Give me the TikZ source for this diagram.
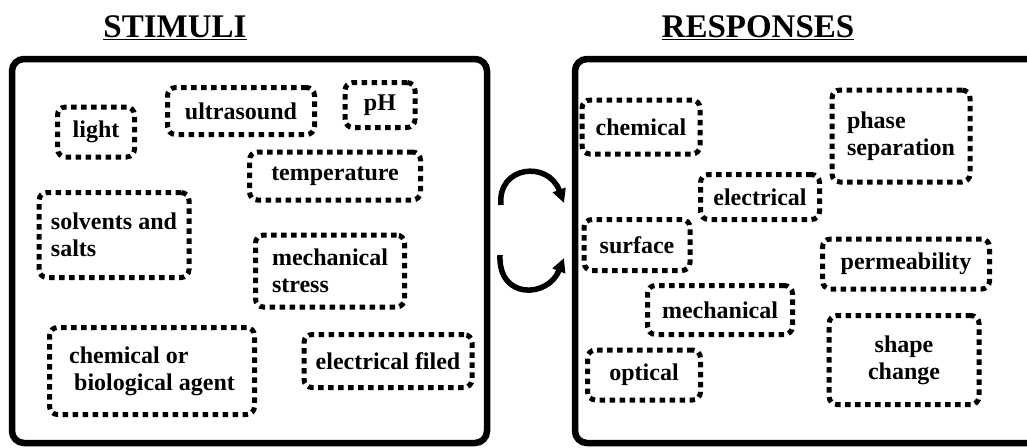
\documentclass[tikz,border=0pt]{standalone}
\usepackage{fontspec}
\setmainfont{Liberation Serif}[BoldFont={Liberation Serif Bold}]
\usetikzlibrary{arrows.meta}
\begin{document}
\begin{tikzpicture}[x=1pt,y=-1pt,
  panel/.style={draw, line width=6.5pt, rounded corners=12pt, inner sep=0pt},
  dbox/.style={draw, line width=5pt, dash pattern=on 5.5pt off 4.5pt, rounded corners=8pt, inner sep=0pt, font=\fontsize{24}{27}\selectfont\bfseries, align=center},
  ltext/.style={align=left},
  title/.style={font=\fontsize{33}{36}\selectfont\bfseries, anchor=base},
  cyc/.style={line width=5.5pt, -{Triangle[length=14pt,width=13pt]}}
]
\useasboundingbox (0,0) rectangle (1027,447);
\clip (0,0) rectangle (1027,447);
% titles
\node[title] (t1) at (175,37) {\underline{STIMULI}};
\node[title] (t2) at (758,37) {\underline{RESPONSES}};
% panels
\node[panel, minimum width=475pt, minimum height=384pt] (left) at (249.5,251) {};
\node[panel, minimum width=465pt, minimum height=384pt] (right) at (807.5,251) {};
% stimuli
\node[dbox, minimum width=77pt, minimum height=50pt] (light) at (96,132) {light};
\node[dbox, minimum width=147pt, minimum height=47pt] (ultra) at (241,111) {ultrasound};
\node[dbox, minimum width=70pt, minimum height=45pt] (ph) at (380,105) {pH};
\node[dbox, minimum width=171pt, minimum height=48pt] (temp) at (335,176) {temperature};
\node[dbox, ltext, minimum width=150pt, minimum height=85pt] (solv) at (114,235) {solvents and\\salts};
\node[dbox, ltext, minimum width=149pt, minimum height=72pt] (mech) at (330,271) {mechanical\\stress};
\node[dbox, ltext, minimum width=205pt, minimum height=87pt] (chemag) at (152,371) {chemical or\\\hspace*{5pt}biological agent};
\node[dbox, minimum width=168pt, minimum height=53pt] (efield) at (388,361) {electrical filed};
% responses
\node[dbox, minimum width=118pt, minimum height=54pt] (rchem) at (641,127) {chemical};
\node[dbox, ltext, minimum width=138pt, minimum height=92pt] (phase) at (901,136) {phase\\separation};
\node[dbox, minimum width=119pt, minimum height=45pt] (relec) at (760,197) {electrical};
\node[dbox, minimum width=106pt, minimum height=51pt] (surf) at (637,245) {surface};
\node[dbox, minimum width=167pt, minimum height=50pt] (perm) at (906,264) {permeability};
\node[dbox, minimum width=145pt, minimum height=49pt] (rmech) at (720,310) {mechanical};
\node[dbox, minimum width=113pt, minimum height=50pt] (opt) at (644,375) {optical};
\node[dbox, minimum width=150pt, minimum height=89pt] (shape) at (904,360) {shape\\change};
% cycle arrows
\coordinate (a1s) at (501,205);
\coordinate (a1e) at (564,203);
\coordinate (a2s) at (500,255);
\coordinate (a2e) at (564,258);
\draw[cyc] (a1s) .. controls (497,166) and (548,160) .. (a1e);
\draw[cyc] (a2s) .. controls (498,300) and (548,298) .. (a2e);
\end{tikzpicture}
\end{document}
